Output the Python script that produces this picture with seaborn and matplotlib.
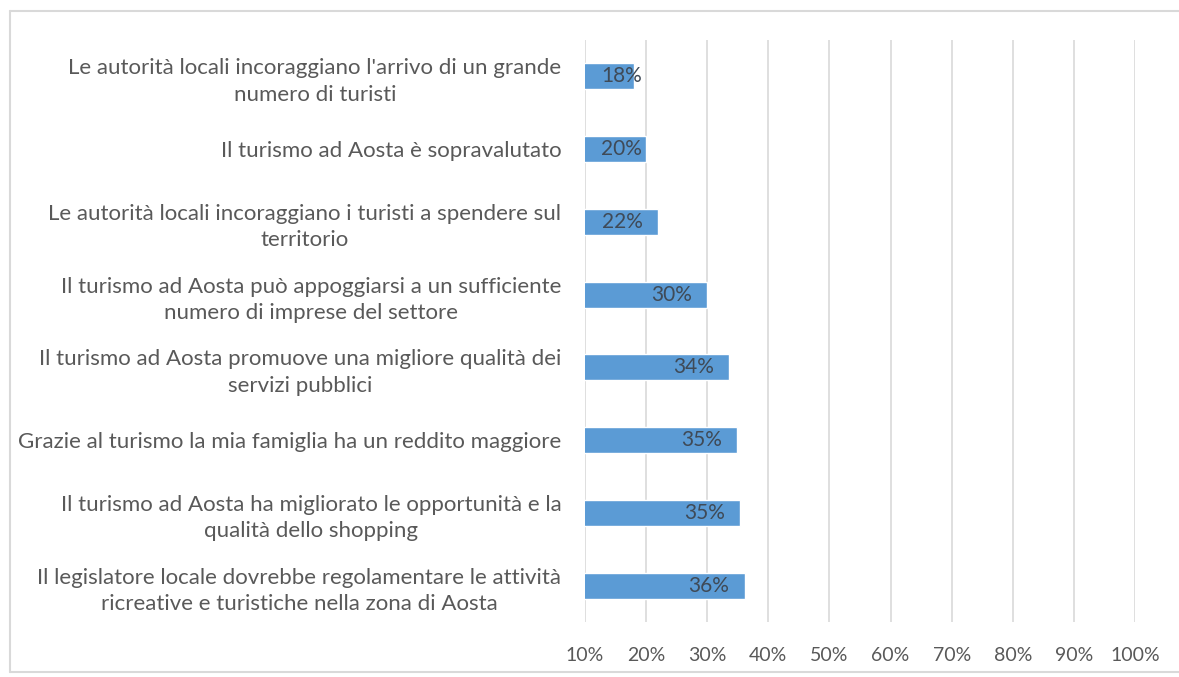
import matplotlib
matplotlib.use("Agg")
import matplotlib.pyplot as plt
import seaborn as sns
from matplotlib.lines import Line2D

statements = [
    "Le autorità locali incoraggiano l'arrivo di un grande\nnumero di turisti",
    "Il turismo ad Aosta è sopravalutato",
    "Le autorità locali incoraggiano i turisti a spendere sul\nterritorio",
    "Il turismo ad Aosta può appoggiarsi a un sufficiente\nnumero di imprese del settore",
    "Il turismo ad Aosta promuove una migliore qualità dei\nservizi pubblici",
    "Grazie al turismo la mia famiglia ha un reddito maggiore",
    "Il turismo ad Aosta ha migliorato le opportunità e la\nqualità dello shopping",
    "Il legislatore locale dovrebbe regolamentare le attività\nricreative e turistiche nella zona di Aosta",
]
shares = [0.18, 0.20, 0.22, 0.30, 0.336, 0.349, 0.354, 0.361]
x_ticks = [0.1, 0.2, 0.3, 0.4, 0.5, 0.6, 0.7, 0.8, 0.9, 1.0]

sns.set_style("white")
plt.rcParams['font.family'] = ['Lato', 'DejaVu Sans']

fig = plt.figure(figsize=(11.79, 6.77), dpi=100)
ax = fig.add_axes([585/1179, 55/677, 550/1179, 582/677])

sns.barplot(x=shares, y=statements, orient='h', color='#5B9BD5',
            width=0.36, saturation=1, ax=ax, zorder=3)

ax.set_xlim(0.1, 1.0)
ax.set_xticks(x_ticks)
ax.set_xticklabels([f"{int(round(t*100))}%" for t in x_ticks])
ax.grid(axis='x', color='#d9d9d9', linewidth=1.2, zorder=0)
ax.set_axisbelow(True)
for s in ax.spines.values():
    s.set_visible(False)
ax.tick_params(axis='y', length=0, pad=17, labelsize=16, labelcolor='#595959')
ax.tick_params(axis='x', length=0, pad=18, labelsize=14, labelcolor='#595959')
for lbl in ax.get_yticklabels():
    lbl.set_multialignment('center')
    lbl.set_linespacing(1.4)
ax.set_xlabel("")
ax.set_ylabel("")

# data labels inside the bar end
for i, v in enumerate(shares):
    txt = f"{v:.0%}"
    if v - 0.025 - 0.066 < 0.127:
        ax.text(0.127, i, txt, ha='left', va='center', fontsize=15,
                color='#3f4a57', zorder=4)
    else:
        ax.text(v - 0.025, i, txt, ha='right', va='center', fontsize=15,
                color='#3f4a57', zorder=4)

# chart frame: top, left, bottom only (right side is cut off in the source)
x0, y0, y1 = 10/1179, 5/677, 1 - 11/677
for xs, ys in [([x0, 1], [y1, y1]), ([x0, x0], [y0, y1]), ([x0, 1], [y0, y0])]:
    fig.add_artist(Line2D(xs, ys, transform=fig.transFigure,
                          color='#d9d9d9', linewidth=1.5))

fig.savefig("out.png", dpi=100)
